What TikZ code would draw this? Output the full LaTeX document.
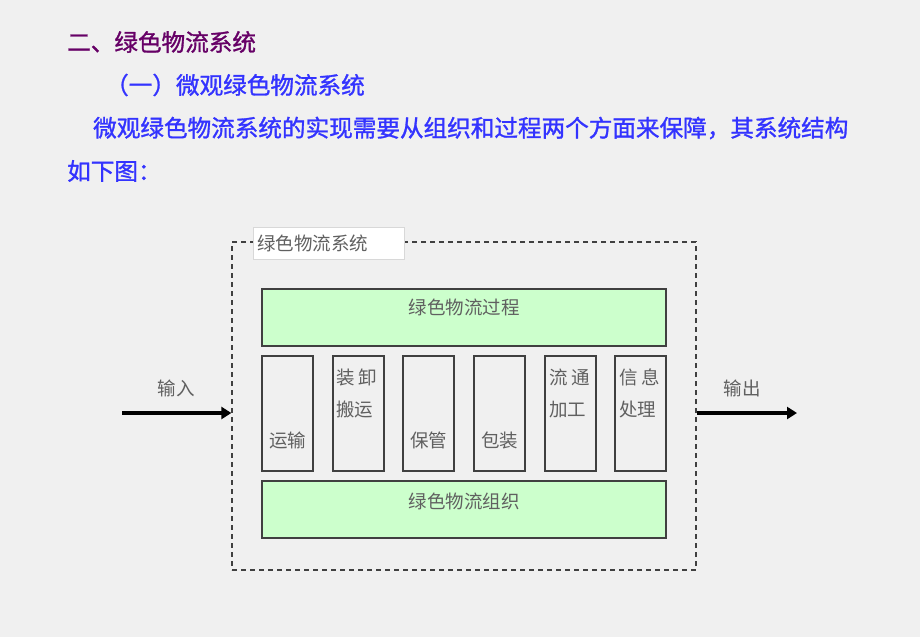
\documentclass[tikz,border=0pt]{standalone}
\usepackage{fontspec}
\setmainfont{Noto Sans CJK SC}
\newfontfamily\headfont{Noto Sans CJK SC}[FakeBold=1.2]
\usetikzlibrary{arrows.meta}
\definecolor{bgcol}{RGB}{240,240,240}
\definecolor{titlecol}{RGB}{102,0,102}
\definecolor{textcol}{RGB}{51,51,255}
\definecolor{fillcol}{RGB}{204,255,204}
\definecolor{boxcol}{RGB}{64,64,64}
\definecolor{labelcol}{RGB}{96,96,96}

\begin{document}
\begin{tikzpicture}[x=1pt,y=-1pt,
    box/.style={draw=boxcol, line width=1.3pt, inner sep=0pt},
    greenbox/.style={box, fill=fillcol, minimum width=404pt, minimum height=57pt},
    smallbox/.style={box, minimum width=51pt, minimum height=115pt},
    lbl/.style={text=labelcol, inner sep=0pt, font=\fontsize{18.5}{32}\selectfont},
    head/.style={inner sep=0pt, anchor=west, font=\headfont\fontsize{23.6}{28}\selectfont},
    flow/.style={line width=3.8pt, -{Triangle[length=10pt,width=12pt]}}]

    % Background and page size
    \fill[bgcol] (0,0) rectangle (920,637);
    \useasboundingbox (0,0) rectangle (920,637);

    % Heading text
    \node[head, text=titlecol] (title) at (67,42) {二、绿色物流系统};
    \node[head, text=textcol] (subtitle) at (105,85) {（一）微观绿色物流系统};
    \node[head, text=textcol] (para1) at (93,128) {微观绿色物流系统的实现需要从组织和过程两个方面来保障，其系统结构};
    \node[head, text=textcol] (para2) at (67,171) {如下图：};

    % Outer dashed system box
    \node[draw=boxcol, line width=1.3pt, dash pattern=on 5pt off 4pt,
          minimum width=464pt, minimum height=328pt] (sys) at (464,406) {};
    \node[lbl, anchor=west, fill=white, draw={rgb,255:red,216;green,216;blue,216},
          inner sep=4pt, text width=143pt, minimum height=32pt] (syslbl) at (253,243) {绿色物流系统};

    % Process and organisation bars
    \node[greenbox] (proc) at (464,317.5) {};
    \node[lbl] (proclbl) at (464,307) {绿色物流过程};
    \node[greenbox] (org) at (464,509.5) {};
    \node[lbl] (orglbl) at (464,501) {绿色物流组织};

    % Functional boxes
    \node[smallbox] (b1) at (287.5,413.5) {};
    \node[smallbox] (b2) at (358.5,413.5) {};
    \node[smallbox] (b3) at (428.5,413.5) {};
    \node[smallbox] (b4) at (499.5,413.5) {};
    \node[smallbox] (b5) at (570.5,413.5) {};
    \node[smallbox] (b6) at (640.5,413.5) {};

    \node[lbl] (t1) at (287.5,440) {运输};
    \node[lbl, anchor=west, align=left] (t2) at (336,393) {装 卸\\搬运};
    \node[lbl] (t3) at (428.5,440) {保管};
    \node[lbl] (t4) at (499.5,440) {包装};
    \node[lbl, anchor=west, align=left] (t5) at (549,393) {流 通\\加工};
    \node[lbl, anchor=west, align=left] (t6) at (619,393) {信 息\\处理};

    % Input and output
    \coordinate (inL) at (122,413);
    \coordinate (outR) at (797,413);
    \draw[flow] (inL) -- (inL -| sys.west);
    \draw[flow] (outR -| sys.east) -- (outR);
    \node[lbl] (inlbl) at (176,388) {输入};
    \node[lbl] (outlbl) at (742,388) {输出};

\end{tikzpicture}
\end{document}
